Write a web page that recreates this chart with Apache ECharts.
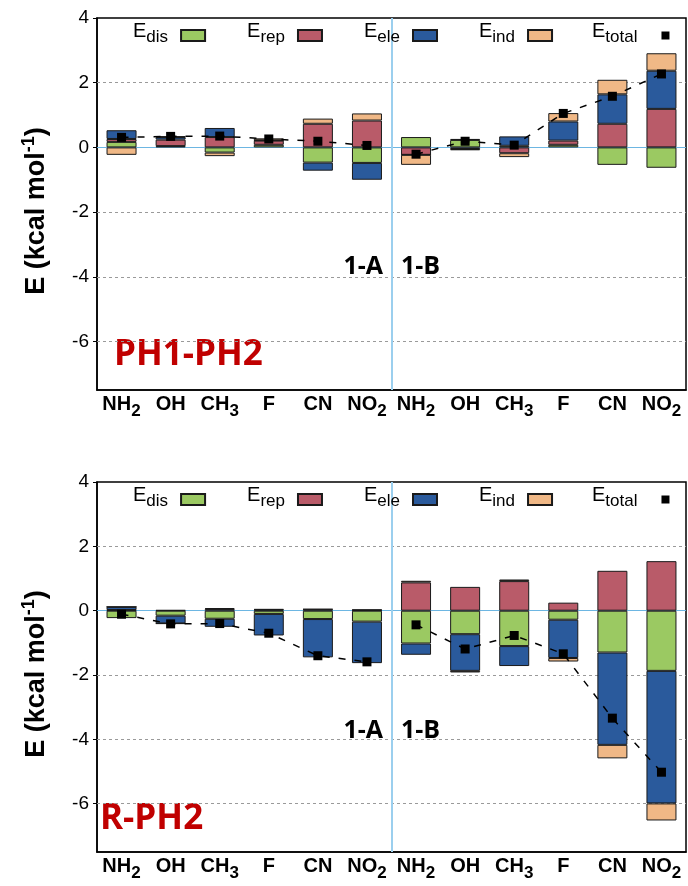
<!DOCTYPE html>
<html>
<head>
<meta charset="utf-8">
<script src="https://cdn.jsdelivr.net/npm/echarts@6/dist/echarts.min.js"></script>
<style>
  html, body { margin: 0; padding: 0; background: #fff; }
  #energy-chart { width: 688px; height: 886px; }
</style>
</head>
<body>
<div id="energy-chart"></div>
<script>
// substituents, 1-A then 1-B
const groups = ["1-A", "1-B"];
const substituents = ["NH2", "OH", "CH3", "F", "CN", "NO2"];
const yTicks = [-6, -4, -2, 0, 2, 4];
const gridLines = [2, -2, -4, -6];

// PH1-PH2 panel (12 bars: 1-A x6, 1-B x6)
const ph_dis = [0.17, 0.04, -0.16, 0.08, -0.47, -0.48, 0.32, 0.23, 0.05, 0.08, -0.54, -0.63];
const ph_rep = [0.09, 0.2, 0.32, 0.13, 0.73, 0.83, -0.23, -0.05, -0.18, 0.13, 0.73, 1.19];
const ph_ele = [0.27, 0.08, 0.28, 0.01, -0.25, -0.52, 0, 0.03, 0.29, 0.59, 0.91, 1.18];
const ph_ind = [-0.23, 0.02, -0.11, 0.06, 0.16, 0.22, -0.31, -0.04, -0.12, 0.26, 0.45, 0.54];
const ph_totalA = [0.31, 0.34, 0.35, 0.26, 0.19, 0.06];
const ph_totalB = [-0.21, 0.19, 0.07, 1.05, 1.58, 2.27];

// R-PH2 panel
const r_dis = [-0.23, -0.155, -0.25, -0.1, -0.26, -0.34, -1.02, -0.73, -1.1, -0.28, -1.3, -1.87];
const r_rep = [0.02, 0.02, 0.05, 0.03, 0.04, 0.02, 0.88, 0.74, 0.92, 0.25, 1.24, 1.54];
const r_ele = [0.1, -0.24, -0.25, -0.67, -1.19, -1.29, -0.35, -1.14, -0.62, -1.19, -2.87, -4.12];
const r_ind = [0, -0.01, 0.03, 0.02, 0.01, 0.01, 0.05, -0.05, 0.05, -0.11, -0.42, -0.53];
const r_totalA = [-0.11, -0.41, -0.4, -0.7, -1.4, -1.59];
const r_totalB = [-0.44, -1.19, -0.77, -1.34, -3.34, -5.02];

const FONT = "'Liberation Sans', Arial, sans-serif";
const TITLE_FONT = "'Open Sans', 'Noto Sans', sans-serif";
const barNames = ["E_dis", "E_rep", "E_ele", "E_ind"];
const barColors = ["#9BC962", "#B95B69", "#2A5A9C", "#F0B886"];

const xData = groups.flatMap((g) => substituents.map((s) => g + " " + s));

const panels = [
  { top: 18, height: 372, bars: [ph_dis, ph_rep, ph_ele, ph_ind], totA: ph_totalA, totB: ph_totalB, title: "PH1-PH2" },
  { top: 482, height: 370, bars: [r_dis, r_rep, r_ele, r_ind], totA: r_totalA, totB: r_totalB, title: "R-PH2" },
];

// "NH2" -> NH + subscript 2
const subLabel = (s) => {
  const m = s.match(/^(\D+)(\d*)$/);
  return m[2] ? "{n|" + m[1] + "}{s|" + m[2] + "}" : "{n|" + m[1] + "}";
};
const legendLabel = (name) => {
  const [e, sub] = name.split("_");
  return name === "E_total" ? "{e|" + e + "}{t|" + sub + "}" : "{e|" + e + "}{s|" + sub + "}";
};
const legendRich = {
  e: { fontSize: 20, fontFamily: FONT, color: "#000", lineHeight: 20, verticalAlign: "bottom", padding: [0, 0, 4, 0] },
  s: { fontSize: 17, fontFamily: FONT, color: "#000", lineHeight: 17, verticalAlign: "bottom", padding: [0, 8, 0, 0] },
  t: { fontSize: 17, fontFamily: FONT, color: "#000", lineHeight: 17, verticalAlign: "bottom", padding: [0, 19, 0, 0] },
};

const grid = [];
const xAxis = [];
const yAxis = [];
const legend = [];
const series = [];
const graphic = [];

panels.forEach((p, i) => {
  grid.push({
    left: 97, right: 2, top: p.top, height: p.height,
    show: true, borderColor: "#000", borderWidth: 1.5, backgroundColor: "transparent",
  });
  xAxis.push({
    type: "category", gridIndex: i, data: xData,
    axisLine: { onZero: false, lineStyle: { color: "#000", width: 1.5 } },
    axisTick: { alignWithLabel: true, length: 4, lineStyle: { color: "#000" } },
    axisLabel: {
      interval: 0, margin: 10,
      formatter: (v) => subLabel(v.split(" ")[1]),
      rich: {
        n: { fontSize: 20, fontWeight: "bold", fontFamily: FONT, color: "#000", lineHeight: 20, verticalAlign: "bottom", padding: [0, 0, 6, 0] },
        s: { fontSize: 17, fontWeight: "bold", fontFamily: FONT, color: "#000", lineHeight: 17, verticalAlign: "bottom" },
      },
    },
  });
  yAxis.push({
    type: "value", gridIndex: i, min: -7.5, max: 4,
    axisLine: { show: true, onZero: false, lineStyle: { color: "#000", width: 1.5 } },
    axisTick: { show: true, length: 4, customValues: yTicks, lineStyle: { color: "#000" } },
    axisLabel: { customValues: yTicks, fontSize: 19, fontFamily: FONT, color: "#000", margin: 8 },
    splitLine: { show: false },
    name: "{a|E (kcal mol}{b|-1}{a|)}",
    nameLocation: "middle", nameRotate: 90, nameGap: 47,
    nameTextStyle: {
      padding: [0, 14, 0, 0],
      rich: {
        a: { fontSize: 27, fontWeight: "bold", fontFamily: FONT, color: "#000", lineHeight: 30, verticalAlign: "bottom" },
        b: { fontSize: 18, fontWeight: "bold", fontFamily: FONT, color: "#000", lineHeight: 18, verticalAlign: "top" },
      },
    },
  });

  legend.push({
    top: p.top + 3.5, left: 133, padding: 0, align: "right",
    itemWidth: 24, itemHeight: 11, itemGap: 41, selectedMode: false,
    data: barNames.map((n) => ({ name: n, icon: "rect" })),
    formatter: legendLabel, textStyle: { rich: legendRich },
  });
  legend.push({
    top: p.top + 3.5, left: 592, padding: 0, align: "right",
    itemWidth: 8, itemHeight: 8, selectedMode: false,
    data: [{ name: "E_total", icon: "rect" }],
    formatter: legendLabel, textStyle: { rich: legendRich },
  });

  // stacked components
  p.bars.forEach((vals, k) => {
    series.push({
      name: barNames[k], type: "bar", stack: "panel" + i,
      xAxisIndex: i, yAxisIndex: i, barWidth: 30, z: 2,
      data: vals,
      itemStyle: { color: barColors[k], borderColor: "#1a1a1a", borderWidth: 1 },
    });
  });
  // E_total, separate dashed line for 1-A and 1-B
  const blank = substituents.map(() => "-");
  [p.totA.concat(blank), blank.concat(p.totB)].forEach((d) => {
    series.push({
      name: "E_total", type: "line", xAxisIndex: i, yAxisIndex: i, z: 3,
      data: d, symbol: "rect", symbolSize: 9,
      itemStyle: { color: "#000" },
      lineStyle: { color: "#000", width: 1.5, type: [7, 9] },
    });
  });
});

// hidden value axes, only used to place the reference lines
panels.forEach((p, i) => {
  xAxis.push({ type: "value", gridIndex: i, min: -0.5, max: 11.5, show: false });
  series.push({
    type: "line", xAxisIndex: 2 + i, yAxisIndex: i, data: [], silent: true,
    markLine: {
      silent: true, symbol: ["none", "none"], label: { show: false }, z: 1, animation: false,
      data: gridLines
        .map((v) => ({ yAxis: v, lineStyle: { color: "#9a9a9a", width: 1, type: [3, 3] } }))
        .concat([
          { yAxis: 0, lineStyle: { color: "#6DB6E2", width: 1, type: "solid" } },
          { xAxis: 5.5, lineStyle: { color: "#9BCFEE", width: 2, type: "solid" } },
        ]),
    },
  });
  const dy = p.top - 18;
  graphic.push(
    { type: "text", x: 383, y: 267 + dy, style: { text: "1-A", fill: "#000", font: "bold 25px " + TITLE_FONT, textAlign: "right", textVerticalAlign: "middle" } },
    { type: "text", x: 401, y: 267 + dy, style: { text: "1-B", fill: "#000", font: "bold 25px " + TITLE_FONT, textAlign: "left", textVerticalAlign: "middle" } },
    { type: "text", x: i === 0 ? 114 : 100, y: 355 + dy, style: { text: p.title, fill: "#C00000", font: "bold 35px " + TITLE_FONT, textAlign: "left", textVerticalAlign: "middle" } }
  );
});

const option = {
  animation: false,
  backgroundColor: "#fff",
  grid, xAxis, yAxis, legend, series, graphic,
};

const chartDom = document.getElementById("energy-chart");
const myChart = echarts.init(chartDom);
myChart.setOption(option);
</script>
</body>
</html>
